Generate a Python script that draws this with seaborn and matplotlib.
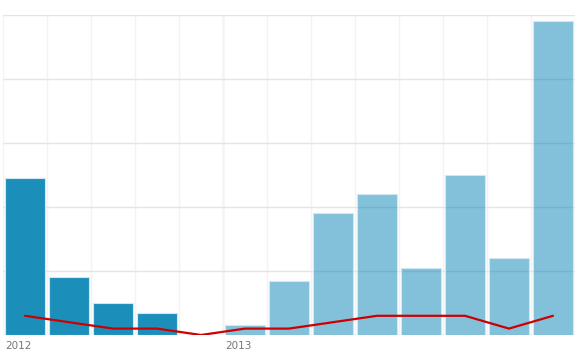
import numpy as np
import pandas as pd
import matplotlib
matplotlib.use('Agg')
import matplotlib.pyplot as plt
import matplotlib.transforms as mtransforms
import seaborn as sns

# monthly values (13 slots: 5 in 2012, 8 in 2013)
months = ['2012-08', '2012-09', '2012-10', '2012-11', '2012-12',
          '2013-01', '2013-02', '2013-03', '2013-04', '2013-05',
          '2013-06', '2013-07', '2013-08']
years = ['2012'] * 5 + ['2013'] * 8
bar_values = [49, 18, 10, 7, 0, 3, 17, 38, 44, 21, 50, 24, 98]
line_values = [6, 4, 2, 2, 0, 2, 2, 4, 6, 6, 6, 2, 6]
year_labels = ['2012', '2013']

df = pd.DataFrame({'slot': range(len(months)), 'month': months,
                   'year': years, 'value': bar_values, 'line': line_values})

sns.set_style("white")
plt.rcParams['font.family'] = ['DejaVu Sans']

fig = plt.figure(figsize=(5.84, 3.56), dpi=100)
ax = fig.add_axes([3 / 584, 21 / 356, 572 / 584, 320 / 356])

# grid first, bars of the current year are translucent over it
ax.set_yticks(np.arange(0, 101, 20))
ax.yaxis.grid(True, color='#e4e4e4', linewidth=1)
ax.set_xticks(np.arange(-0.5, len(months), 1), minor=True)
ax.xaxis.grid(True, which='minor', color='#f3f3f3', linewidth=1)
ax.axvline(4.5, color='#e2e2e2', linewidth=1, zorder=0.5)
ax.set_axisbelow(True)

sns.barplot(data=df, x='slot', y='value', color='#1b8fba', saturation=1,
            width=0.91, edgecolor='#cfe8f1', linewidth=0.8, ax=ax)
for patch, yr in zip(ax.patches, years):
    if yr == '2013':
        patch.set_facecolor((0x1b / 255, 0x8f / 255, 0xba / 255, 0.55))

sns.lineplot(data=df, x='slot', y='line', color='#cc0000', linewidth=1.6,
             ax=ax, zorder=3)

ax.set_xlim(-0.5, len(months) - 0.5)
ax.set_ylim(0, 100)

ax.set_xticks([])
ax.tick_params(axis='y', length=0, labelleft=False)
ax.tick_params(axis='x', which='both', length=0)
ax.set_xlabel('')
ax.set_ylabel('')
for s in ax.spines.values():
    s.set_visible(False)

trans = mtransforms.blended_transform_factory(ax.transData, ax.transAxes)
for xpos, lab in zip([-0.45, 4.55], year_labels):
    ax.text(xpos, -0.034, lab, transform=trans, ha='left', va='center',
            fontsize=7.5, color='#777777')

fig.savefig('out.png', dpi=100, facecolor='white')
plt.close(fig)
